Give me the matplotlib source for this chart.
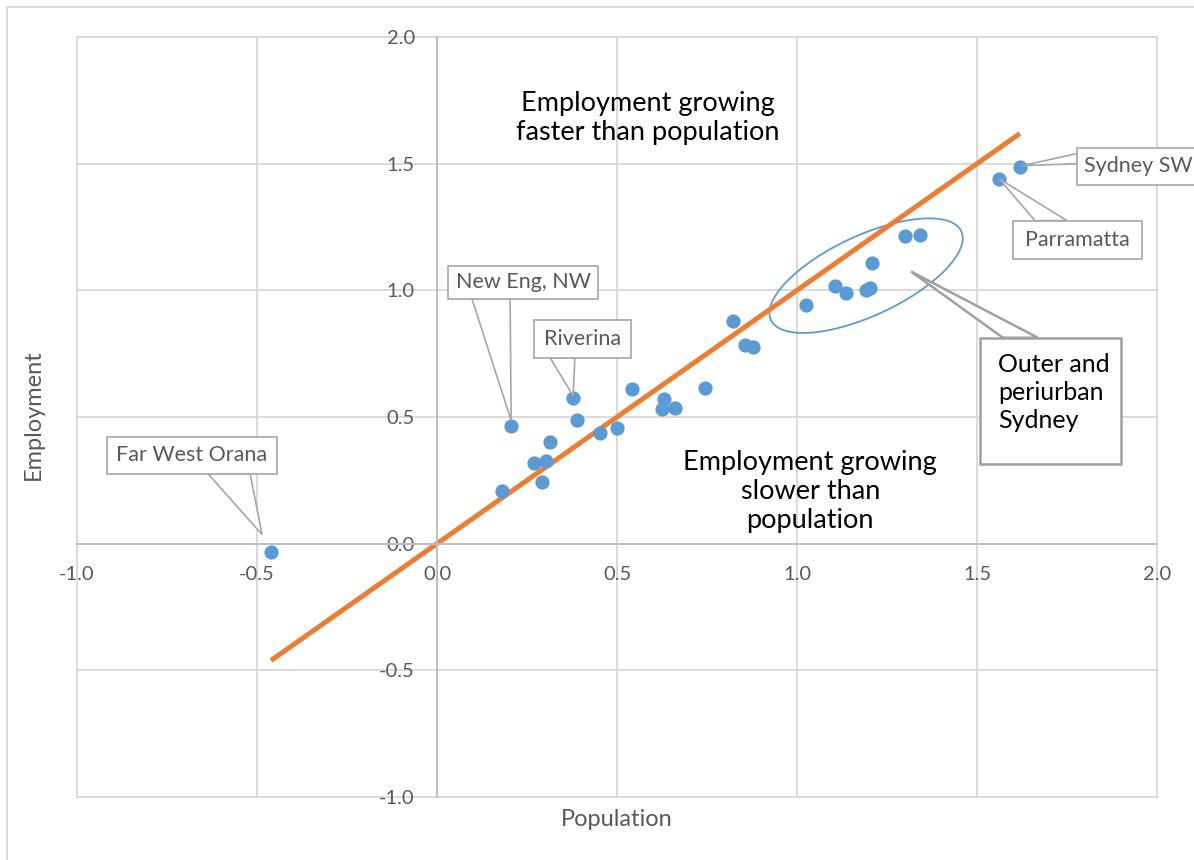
import matplotlib
matplotlib.use("Agg")
import matplotlib.pyplot as plt
from matplotlib.patches import Ellipse, Rectangle, Polygon
from matplotlib.transforms import ScaledTranslation

plt.rcParams["font.family"] = ["Lato", "DejaVu Sans"]

# growth rates by region
population = [-0.461, 0.181, 0.206, 0.269, 0.292, 0.303, 0.314, 0.378, 0.389, 0.453,
              0.500, 0.542, 0.631, 0.625, 0.661, 0.744, 0.822, 0.856, 0.878, 1.025,
              1.106, 1.136, 1.192, 1.203, 1.208, 1.300, 1.342, 1.561, 1.619]
employment = [-0.032, 0.209, 0.466, 0.320, 0.245, 0.328, 0.403, 0.576, 0.490, 0.438,
              0.458, 0.612, 0.573, 0.533, 0.537, 0.616, 0.880, 0.786, 0.778, 0.944,
              1.019, 0.991, 1.003, 1.011, 1.109, 1.216, 1.220, 1.441, 1.488]

ticks = [-1.0, -0.5, 0.0, 0.5, 1.0, 1.5, 2.0]

# callouts: label, box (x0, y0, x1, y1), wedge base points, tip
callout_labels = ["Far West Orana", "New Eng, NW", "Riverina", "Sydney SW", "Parramatta"]
callout_boxes = [(-0.917, 0.276, -0.444, 0.422),
                 (0.031, 0.967, 0.447, 1.097),
                 (0.269, 0.734, 0.539, 0.884),
                 (1.778, 1.417, 2.140, 1.563),
                 (1.600, 1.125, 1.958, 1.275)]
callout_bases = [[(-0.636, 0.276), (-0.519, 0.276)],
                 [(0.097, 0.967), (0.203, 0.967)],
                 [(0.314, 0.734), (0.383, 0.734)],
                 [(1.778, 1.540), (1.778, 1.500)],
                 [(1.661, 1.275), (1.750, 1.275)]]
callout_tips = [(-0.486, 0.036), (0.206, 0.486), (0.378, 0.584), (1.625, 1.492), (1.561, 1.441)]

blue = "#5B9BD5"
orange = "#ED7D31"
grey_txt = "#595959"
grid_c = "#d9d9d9"

fig = plt.figure(figsize=(11.94, 8.6), dpi=100)
ax = fig.add_axes([77 / 1194, 63 / 860, 1080 / 1194, 760 / 860])

# outer chart border
fig.patches.append(Rectangle((7 / 1194, -0.05), 1.2, 1.05 - 7 / 860, transform=fig.transFigure,
                             fill=False, ec=grid_c, lw=1.3))

ax.set_xlim(-1, 2)
ax.set_ylim(-1, 2)
ax.set_xticks(ticks)
ax.set_yticks(ticks)
ax.set_xticklabels([f"{t:.1f}" for t in ticks])
ax.set_yticklabels([f"{t:.1f}" for t in ticks])
ax.grid(True, color=grid_c, lw=1.4, clip_on=False)
ax.set_axisbelow(True)

for s in ["top", "right"]:
    ax.spines[s].set_visible(False)
ax.spines["left"].set_position(("data", 0))
ax.spines["bottom"].set_position(("data", 0))
for s in ["left", "bottom"]:
    ax.spines[s].set_color("#bfbfbf")
    ax.spines[s].set_linewidth(1.4)
ax.tick_params(length=0, labelsize=14.5, labelcolor=grey_txt, pad=16)

ax.set_xlabel("Population", fontsize=17, color=grey_txt)
ax.set_ylabel("Employment", fontsize=17, color=grey_txt)
ax.xaxis.set_label_coords(540 / 1080, -12 / 760)
ax.yaxis.set_label_coords(-33 / 1080, 382 / 760)

# 45 degree line across the range of the data
lo, hi = min(population), max(population)
ax.plot([lo, hi], [lo, hi], color=orange, lw=3.6, zorder=2, solid_capstyle="butt")

ax.scatter(population, employment, s=105, color=blue, zorder=3, linewidths=0)

# ellipse around outer Sydney
ell = Ellipse((0, 0), 2.10, 0.80, angle=25, fill=False, ec=blue, lw=1.3,
              transform=fig.dpi_scale_trans + ScaledTranslation(1.192, 1.058, ax.transData))
ax.add_patch(ell)

for lab, box, base, tip in zip(callout_labels, callout_boxes, callout_bases, callout_tips):
    ax.add_patch(Polygon([base[0], tip, base[1]], closed=True, fc="white", ec="#a6a6a6",
                         lw=1.2, zorder=5, clip_on=False))
    x0, y0, x1, y1 = box
    ax.add_patch(Rectangle((x0, y0), x1 - x0, y1 - y0, fc="white", ec="#a6a6a6",
                           lw=1.2, zorder=6, clip_on=False))
    if lab == "Sydney SW":
        ax.text(x0 + 0.020, (y0 + y1) / 2, lab, ha="left", va="center", fontsize=15.5,
                color=grey_txt, zorder=7, clip_on=False)
    else:
        ax.text((x0 + x1) / 2, (y0 + y1) / 2, lab, ha="center", va="center", fontsize=15.5,
                color=grey_txt, zorder=7, clip_on=False)

# Outer and periurban Sydney box
ax.add_patch(Polygon([(1.572, 0.813), (1.317, 1.074), (1.669, 0.813)], closed=True,
                     fc="white", ec="#a0a0a0", lw=1.8, zorder=5))
ax.add_patch(Rectangle((1.508, 0.316), 0.392, 0.497, fc="white", ec="#a0a0a0", lw=1.8, zorder=6))
ax.text(1.558, 0.752, "Outer and\nperiurban\nSydney", ha="left", va="top", fontsize=18,
        color="black", zorder=7, linespacing=1.27)

ax.text(0.586, 1.680, "Employment growing\nfaster than population", ha="center", va="center",
        fontsize=19.5, color="black", linespacing=1.2)
ax.text(1.037, 0.205, "Employment growing\nslower than\npopulation", ha="center", va="center",
        fontsize=19.5, color="black", linespacing=1.2)

fig.savefig("out.png", dpi=100)
